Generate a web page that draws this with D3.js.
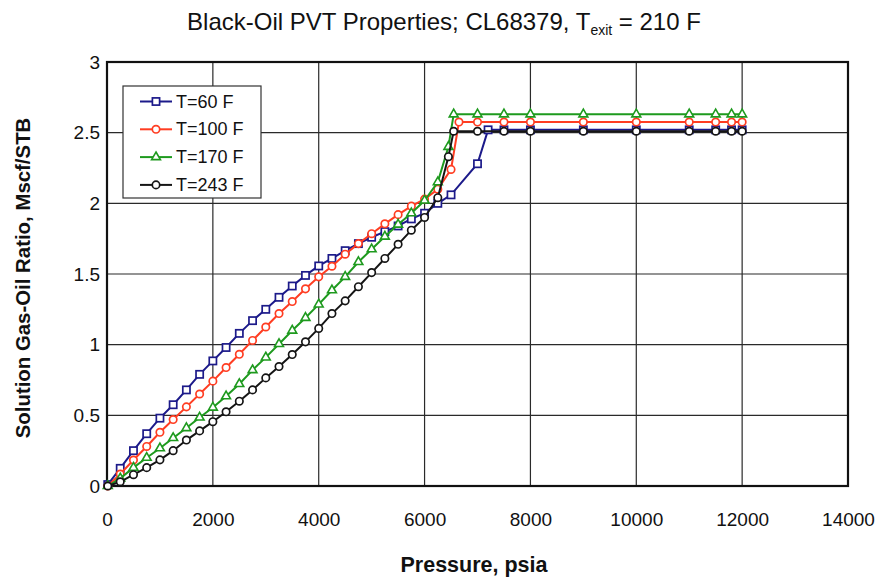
<!DOCTYPE html>
<html><head><meta charset="utf-8">
<script src="https://cdn.jsdelivr.net/npm/d3@7"></script>
<style>
html,body{margin:0;padding:0;background:#fff;}
svg{display:block;font-family:"Liberation Sans",Arial,sans-serif;}
</style></head>
<body>
<svg id="chart" width="879" height="579"></svg>
<script>
const xTicks = [0,2000,4000,6000,8000,10000,12000,14000];
const yTicks = [0,0.5,1,1.5,2,2.5,3];
const seriesNames = ["T=60 F","T=100 F","T=170 F","T=243 F"];

const p60 = [14.7,250,500,750,1000,1250,1500,1750,2000,2250,2500,2750,3000,3250,3500,3750,4000,4250,4500,4750,5000,5250,5500,5750,6000,6250,6500,7000,7200,7500,8000,9000,10000,11000,11500,11800,12000];
const rs60 = [0.01,0.125,0.25,0.37,0.48,0.575,0.68,0.79,0.885,0.98,1.08,1.17,1.25,1.335,1.415,1.49,1.557,1.61,1.665,1.715,1.76,1.8,1.84,1.89,1.93,2.0,2.06,2.28,2.52,2.52,2.52,2.52,2.52,2.52,2.52,2.52,2.52];

const p100 = [14.7,250,500,750,1000,1250,1500,1750,2000,2250,2500,2750,3000,3250,3500,3750,4000,4250,4500,4750,5000,5250,5500,5750,6000,6250,6500,6650,7000,7500,8000,9000,10000,11000,11500,11800,12000];
const rs100 = [0.0,0.085,0.184,0.28,0.38,0.47,0.56,0.651,0.742,0.838,0.932,1.03,1.125,1.22,1.305,1.395,1.48,1.555,1.64,1.715,1.785,1.855,1.92,1.98,2.03,2.1,2.24,2.575,2.575,2.575,2.575,2.575,2.575,2.575,2.575,2.575,2.575];

const p170 = [14.7,250,500,750,1000,1250,1500,1750,2000,2250,2500,2750,3000,3250,3500,3750,4000,4250,4500,4750,5000,5250,5500,5750,6000,6250,6450,6550,7000,7500,8000,9000,10000,11000,11500,11800,12000];
const rs170 = [0.0,0.054,0.13,0.2,0.267,0.34,0.41,0.485,0.555,0.635,0.722,0.82,0.91,1.005,1.1,1.19,1.285,1.385,1.48,1.585,1.675,1.765,1.85,1.93,2.02,2.15,2.4,2.63,2.63,2.63,2.63,2.63,2.63,2.63,2.63,2.63,2.63];

const p243 = [14.7,250,500,750,1000,1250,1500,1750,2000,2250,2500,2750,3000,3250,3500,3750,4000,4250,4500,4750,5000,5250,5500,5750,6000,6250,6450,6550,7000,7500,8000,9000,10000,11000,11500,11800,12000];
const rs243 = [0.0,0.03,0.08,0.13,0.185,0.25,0.325,0.39,0.455,0.525,0.6,0.68,0.765,0.845,0.93,1.02,1.115,1.22,1.31,1.41,1.51,1.61,1.71,1.81,1.9,2.04,2.33,2.51,2.51,2.51,2.51,2.51,2.51,2.51,2.51,2.51,2.51];

const colors = ["#1c1a8a","#ff3d22","#1e9a1e","#151515"];
const shapes = ["square","circle","triangle","circle"];
const seriesP = [p60,p100,p170,p243];
const seriesRs = [rs60,rs100,rs170,rs243];

const svg = d3.select("#chart");
const L=107, R=848, T=62, B=486;
const x = d3.scaleLinear().domain([0,14000]).range([L,R]);
const y = d3.scaleLinear().domain([0,3]).range([B,T]);

// grid
const g = svg.append("g");
g.selectAll("line.vg").data(xTicks.slice(1,-1)).join("line")
  .attr("x1",d=>x(d)).attr("x2",d=>x(d)).attr("y1",T).attr("y2",B)
  .attr("stroke","#2a2a2a").attr("stroke-width",1.2);
g.selectAll("line.hg").data(yTicks.slice(1,-1)).join("line")
  .attr("y1",d=>y(d)).attr("y2",d=>y(d)).attr("x1",L).attr("x2",R)
  .attr("stroke","#2a2a2a").attr("stroke-width",1.2);
g.append("rect").attr("x",L).attr("y",T).attr("width",R-L).attr("height",B-T)
  .attr("fill","none").attr("stroke","#111").attr("stroke-width",2.2);

// axes
const xAxis = d3.axisBottom(x).tickValues(xTicks).tickSize(0).tickPadding(27).tickFormat(d3.format("d"));
const yAxis = d3.axisLeft(y).tickValues(yTicks).tickSize(0).tickPadding(7).tickFormat(d=>String(d));
const xa = svg.append("g").attr("transform",`translate(0,${B})`).call(xAxis);
const ya = svg.append("g").attr("transform",`translate(${L},0)`).call(yAxis);
[xa,ya].forEach(a=>{a.select(".domain").remove();a.selectAll("text").attr("font-size",19).attr("fill","#111").attr("font-family","Liberation Sans, Arial, sans-serif");});

// titles
const title = svg.append("text").attr("x",444).attr("y",30).attr("text-anchor","middle")
  .attr("font-size",24).attr("fill","#111");
title.append("tspan").text("Black-Oil PVT Properties; CL68379, T");
title.append("tspan").attr("font-size",14).attr("dy",5).text("exit");
title.append("tspan").attr("dy",-5).text(" = 210 F");

svg.append("text").attr("x",474).attr("y",572).attr("text-anchor","middle")
  .attr("font-size",21.5).attr("font-weight","bold").attr("fill","#111").text("Pressure, psia");
svg.append("text").attr("transform","translate(30,278) rotate(-90)").attr("text-anchor","middle")
  .attr("font-size",20.4).attr("font-weight","bold").attr("fill","#111").text("Solution Gas-Oil Ratio, Mscf/STB");

function marker(sel, shape, color){
  if(shape==="square"){
    sel.append("rect").attr("x",-3.6).attr("y",-3.6).attr("width",7.2).attr("height",7.2)
      .attr("fill","#fff").attr("stroke",color).attr("stroke-width",1.7);
  } else if(shape==="triangle"){
    sel.append("path").attr("d",d3.symbol().type(d3.symbolTriangle).size(34)())
      .attr("fill","#fff").attr("stroke",color).attr("stroke-width",1.6);
  } else {
    sel.append("circle").attr("r",3.7).attr("fill","#fff").attr("stroke",color).attr("stroke-width",1.7);
  }
}

const line = d3.line().x(d=>x(d[0])).y(d=>y(d[1]));
seriesP.forEach((ps,i)=>{
  const pts = ps.map((p,j)=>[p,seriesRs[i][j]]);
  const sg = svg.append("g");
  sg.append("path").datum(pts).attr("d",line).attr("fill","none")
    .attr("stroke",colors[i]).attr("stroke-width",2);
  sg.selectAll("g.m").data(pts).join("g")
    .attr("transform",d=>`translate(${x(d[0])},${y(d[1])})`)
    .each(function(){ marker(d3.select(this), shapes[i], colors[i]); });
});

// legend
const lg = svg.append("g");
lg.append("rect").attr("x",123).attr("y",86).attr("width",138).attr("height",112)
  .attr("fill","#fff").attr("stroke","#333").attr("stroke-width",1.2);
seriesNames.forEach((n,i)=>{
  const yy = 101.5 + i*27.8;
  lg.append("line").attr("x1",140).attr("x2",172).attr("y1",yy).attr("y2",yy)
    .attr("stroke",colors[i]).attr("stroke-width",2);
  const m = lg.append("g").attr("transform",`translate(156,${yy})`);
  marker(m, shapes[i], colors[i]);
  lg.append("text").attr("x",176).attr("y",yy+6).attr("font-size",18).attr("fill","#111").text(n);
});
</script>
</body></html>
